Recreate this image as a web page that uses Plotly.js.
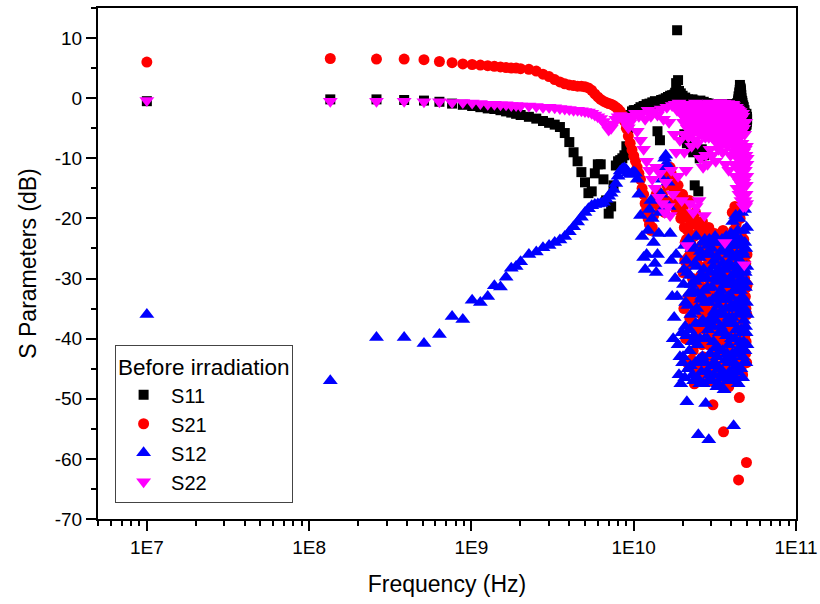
<!DOCTYPE html>
<html>
<head>
<meta charset="utf-8">
<script src="https://cdn.plot.ly/plotly-3.0.1.min.js"></script>
<style>
html, body { margin: 0; padding: 0; background: #ffffff; }
#chart { width: 820px; height: 604px; }
</style>
</head>
<body>
<div id="chart"></div>
<script>
// Sweep frequencies in GHz
const freqGHz = [
  0.01, 0.135, 0.26, 0.385, 0.51, 0.635, 0.76, 0.885, 1.01, 1.135, 1.26, 1.385, 1.51, 1.635, 1.76, 1.885, 2.01,
  2.26, 2.51, 2.76, 3.01, 3.26, 3.51, 3.76, 4.01, 4.26, 4.51, 4.76, 5.01, 5.26, 5.51, 5.76, 6.01,
  6.26, 6.51, 6.76, 7.01, 7.26, 7.51, 7.76, 8.01, 8.26, 8.51, 8.76, 9.01, 9.26, 9.51, 9.76, 10.01,
  10.26, 10.51, 10.76, 11.01, 11.26, 11.51, 11.76, 12.01, 12.26, 12.51,
  12.76, 13.01, 13.26, 13.51, 13.76, 14.01, 14.26, 14.51, 14.76, 15.01,
  15.26, 15.51, 15.76, 16.01, 16.26, 16.51, 16.76, 17.01, 17.26, 17.51,
  17.76, 18.01, 18.26, 18.51, 18.76, 19.01, 19.26, 19.51, 19.76, 20.01,
  20.135, 20.26, 20.385, 20.51, 20.635, 20.76, 20.885, 21.01,
  21.135, 21.26, 21.385, 21.51, 21.635, 21.76, 21.885, 22.01,
  22.135, 22.26, 22.385, 22.51, 22.635, 22.76, 22.885, 23.01,
  23.135, 23.26, 23.385, 23.51, 23.635, 23.76, 23.885, 24.01,
  24.135, 24.26, 24.385, 24.51, 24.635, 24.76, 24.885, 25.01,
  25.135, 25.26, 25.385, 25.51, 25.635, 25.76, 25.885, 26.01,
  26.135, 26.26, 26.385, 26.51, 26.635, 26.76, 26.885, 27.01,
  27.135, 27.26, 27.385, 27.51, 27.635, 27.76, 27.885, 28.01,
  28.135, 28.26, 28.385, 28.51, 28.635, 28.76, 28.885, 29.01,
  29.135, 29.26, 29.385, 29.51, 29.635, 29.76, 29.885, 30.01,
  30.135, 30.26, 30.385, 30.51, 30.635, 30.76, 30.885, 31.01,
  31.135, 31.26, 31.385, 31.51, 31.635, 31.76, 31.885, 32.01,
  32.135, 32.26, 32.385, 32.51, 32.635, 32.76, 32.885, 33.01,
  33.135, 33.26, 33.385, 33.51, 33.635, 33.76, 33.885, 34.01,
  34.135, 34.26, 34.385, 34.51, 34.635, 34.76, 34.885, 35.01,
  35.135, 35.26, 35.385, 35.51, 35.635, 35.76, 35.885, 36.01,
  36.135, 36.26, 36.385, 36.51, 36.635, 36.76, 36.885, 37.01,
  37.135, 37.26, 37.385, 37.51, 37.635, 37.76, 37.885, 38.01,
  38.135, 38.26, 38.385, 38.51, 38.635, 38.76, 38.885, 39.01,
  39.135, 39.26, 39.385, 39.51, 39.635, 39.76, 39.885, 40.01,
  40.135, 40.26, 40.385, 40.51, 40.635, 40.76, 40.885, 41.01,
  41.135, 41.26, 41.385, 41.51, 41.635, 41.76, 41.885, 42.01,
  42.135, 42.26, 42.385, 42.51, 42.635, 42.76, 42.885, 43.01,
  43.135, 43.26, 43.385, 43.51, 43.635, 43.76, 43.885, 44.01,
  44.135, 44.26, 44.385, 44.51, 44.635, 44.76, 44.885, 45.01,
  45.135, 45.26, 45.385, 45.51, 45.635, 45.76, 45.885, 46.01,
  46.135, 46.26, 46.385, 46.51, 46.635, 46.76, 46.885, 47.01,
  47.135, 47.26, 47.385, 47.51, 47.635, 47.76, 47.885, 48.01,
  48.135, 48.26, 48.385, 48.51, 48.635, 48.76, 48.885, 49.01,
  49.135, 49.26, 49.385, 49.51, 49.635, 49.76, 49.885, 50.0
];

// S11 (dB)
const s11 = [
  -0.5, -0.2, -0.2, -0.3, -0.4, -0.6, -0.9, -1.1, -1.3, -1.5, -1.7, -1.8, -2.0, -2.2, -2.4, -2.6, -2.8,
  -3.1, -3.4, -3.8, -4.1, -4.4, -4.8, -5.8, -7.3, -9.0, -10.5, -12.3, -14.0, -15.8, -15.5, -12.5, -11.0,
  -11.0, -13.5, -17.0, -19.2, -18.0, -14.5, -11.2, -10.5, -10.3, -10.0, -9.5, -8.0, -5.0, -2.8, -2.2, -2.0,
  -2.0, -2.3, -1.8, -1.5, -1.9, -1.3, -1.6, -1.0, -1.4, -0.9,
  -1.2, -0.7, -1.1, -0.5, -0.9, -5.5, -0.6, -7.0, -0.3, -0.8,
  -0.2, -0.6, 0.0, -0.4, 0.2, -0.3, 0.4, 0.1, 0.5, 0.2,
  0.6, 0.9, 2.5, 11.3, 3.0, 1.2, 0.5, 0.8, 0.2, 0.4,
  -0.6, -0.2, -1.0, -6.0, -0.4, 0.1, -0.9, -0.5,
  -0.3, -7.5, -1.1, -0.3, -0.2, -0.8, -1.2, -6.5,
  -0.7, -0.4, -1.0, -8.5, -0.3, -0.6, -1.2, -0.2,
  -0.9, -9.0, -0.4, -0.7, -1.3, -14.5, -0.8, -0.5,
  -1.1, -1.0, -0.5, -8.0, -1.4, -0.6, -0.9, -15.5,
  -1.3, -0.8, -0.6, -10.0, -1.1, -0.4, -0.9, -1.2,
  -0.7, -8.5, -1.3, -0.9, -0.8, -1.5, -1.1, -0.6,
  -1.4, -9.5, -0.9, -1.0, -1.6, -1.3, -1.1, -0.8,
  -1.3, -1.6, -0.9, -1.1, -1.5, -1.4, -1.2, -0.9,
  -1.4, -1.7, -1.0, -1.2, -1.6, -1.0, -1.3, -1.5,
  -1.1, -1.2, -1.7, -1.6, -1.3, -1.0, -1.5, -1.4,
  -1.2, -1.8, -1.6, -1.1, -1.0, -1.5, -1.7, -1.3,
  -1.5, -1.9, -1.0, -1.2, -1.4, -1.6, -1.3, -1.0,
  -1.8, -1.4, -1.1, -1.7, -1.6, -1.2, -1.3, -1.5,
  -1.4, -1.1, -1.6, -1.8, -1.0, -1.3, -1.5, -1.6,
  -1.7, -1.2, -1.0, -1.5, -1.4, -1.9, -1.6, -1.3,
  -1.1, -1.6, -1.5, -1.1, -1.7, -1.4, -1.2, -1.8,
  -1.6, -1.3, -1.0, -1.5, -1.4, -1.0, -1.8, -1.6,
  -1.2, -1.4, -1.6, -1.9, -1.5, -1.2, -1.1, -1.5,
  -1.4, -1.7, -1.2, -1.3, -1.8, -1.6, -1.1, -1.4,
  -1.6, -1.3, -1.1, -1.6, -1.5, -1.2, -1.4, -1.8,
  -1.2, -1.4, -1.7, -1.0, -1.3, -1.6, -1.5, -1.3,
  -1.6, -1.9, -1.1, -1.2, -1.4, -1.5, -1.0, -1.1,
  -1.3, -1.7, -1.0, -0.8, -1.6, -1.4, -0.9, -0.5,
  -0.2, 0.3, -0.6, -1.2, 0.2, 0.8, 1.0, 1.4,
  2.2, 1.8, 0.6, 1.0, 1.6, 1.3, 0.8, 0.5,
  0.0, -0.4, -1.0, -1.5, -0.5, -0.8, -1.8, -2.5,
  -1.6, -1.2, -2.2, -3.0, -1.5, -2.0, -3.2, -3.8,
  -2.0, -2.5, -3.6, -4.2, -2.8, -3.0, -4.8, -4.5,
  -2.9, -3.4, -3.9, -2.6, -4.4, -4.0, -3.1, -3.5
];

// S21 (dB)
const s21 = [
  6.0, 6.6, 6.5, 6.5, 6.4, 6.1, 5.9, 5.7, 5.6, 5.5, 5.4, 5.3, 5.2, 5.1, 5.0, 5.0, 4.9,
  4.8, 4.5, 4.0, 3.6, 3.1, 2.7, 2.4, 2.2, 2.1, 2.0, 2.0, 1.9, 1.7, 1.3, 0.7, 0.2,
  -0.2, -0.5, -0.7, -0.9, -1.0, -1.2, -1.5, -1.8, -2.2, -2.8, -3.8, -5.0, -6.3, -7.5, -8.6, -9.6,
  -10.5, -11.5, -12.5, -13.5, -15.0, -16.0, -17.5, -18.5, -20.0, -21.0,
  -22.0, -21.5, -19.5, -17.5, -16.0, -15.5, -17.0, -18.5, -17.0, -16.0,
  -17.5, -19.0, -17.0, -14.5, -13.0, -12.0, -11.5, -12.5, -13.5, -14.0,
  -15.5, -17.0, -18.5, -16.0, -14.5, -16.5, -18.5, -20.0, -17.5, -16.0,
  -29.0, -18.0, -35.0, -21.5, -27.0, -24.0, -40.0, -19.5,
  -23.5, -28.0, -44.0, -22.0, -26.5, -33.0, -20.0, -17.0,
  -36.5, -26.0, -24.0, -38.0, -43.5, -21.0, -33.5, -30.0,
  -27.5, -42.0, -31.0, -23.0, -47.5, -35.0, -25.5, -19.0,
  -32.0, -45.0, -38.5, -27.0, -20.5, -22.5, -34.5, -40.0,
  -44.0, -31.0, -25.5, -21.5, -37.5, -46.0, -29.5, -25.0,
  -24.5, -36.0, -41.0, -20.5, -31.5, -43.0, -25.5, -29.0,
  -45.0, -23.0, -34.5, -38.5, -28.0, -47.0, -33.0, -22.0,
  -38.0, -33.0, -23.5, -26.5, -44.5, -41.0, -30.0, -21.5,
  -27.5, -35.5, -40.5, -44.0, -32.0, -24.0, -47.0, -30.5,
  -36.5, -23.5, -29.5, -39.0, -43.5, -51.0, -33.0, -27.0,
  -30.0, -45.0, -26.5, -22.5, -39.5, -34.0, -47.0, -41.5,
  -34.5, -25.0, -42.5, -47.5, -36.0, -30.0, -27.0, -23.0,
  -31.0, -37.0, -24.0, -44.5, -40.5, -28.0, -35.0, -24.5,
  -46.0, -40.0, -28.5, -32.5, -37.5, -46.5, -23.5, -26.0,
  -30.5, -36.0, -41.0, -22.0, -27.0, -55.5, -33.5, -42.0,
  -45.5, -29.0, -35.0, -24.0, -41.5, -38.0, -26.5, -47.0,
  -37.0, -31.5, -44.0, -25.5, -28.5, -43.5, -39.0, -34.0,
  -23.5, -27.5, -33.5, -48.0, -41.5, -37.0, -30.0, -24.0,
  -35.5, -41.0, -26.0, -30.0, -38.0, -45.5, -32.0, -26.5,
  -44.5, -35.0, -24.5, -19.0, -30.0, -42.0, -38.0, -28.5,
  -33.5, -22.0, -40.5, -46.0, -26.0, -33.0, -44.5, -18.0,
  -29.0, -39.5, -36.0, -25.0, -42.0, -21.0, -31.0, -44.0,
  -40.0, -30.5, -27.0, -19.5, -45.5, -37.0, -33.5, -23.0,
  -36.0, -63.5, -29.5, -41.0, -38.0, -49.8, -44.5, -27.0,
  -32.5, -20.0, -41.5, -35.5, -28.0, -45.0, -37.5, -22.5,
  -43.5, -31.0, -26.5, -40.0, -34.5, -24.5, -46.0, -29.0,
  -36.5, -43.0, -30.5, -34.0, -23.5, -26.0, -41.0, -38.0,
  -28.0, -30.0, -39.5, -44.0, -25.5, -33.0, -42.5, -27.5,
  -35.0, -40.5, -31.5, -60.6, -44.0, -36.0, -26.0, -31.0
];

// S12 (dB)
const s12 = [
  -36.0, -47.0, -39.8, -39.8, -40.8, -39.3, -36.3, -36.8, -33.6, -34.0, -33.0, -31.2, -31.4, -29.8, -28.3, -28.0, -27.2,
  -26.0, -25.6, -24.9, -24.5, -24.0, -23.6, -23.0, -22.2, -21.4, -20.6, -19.8, -19.0, -18.4, -17.9, -17.7, -17.6,
  -17.5, -17.3, -16.8, -16.3, -15.8, -15.2, -14.2, -13.0, -12.1, -11.8, -11.6, -11.9, -12.4, -12.7, -12.5, -12.3,
  -12.5, -13.5, -16.0, -19.5, -23.0, -26.5, -28.5, -26.0, -22.0, -18.5,
  -17.0, -20.0, -24.0, -27.5, -29.0, -26.0, -22.5, -19.0, -16.0, -13.5,
  -11.5, -10.0, -9.5, -11.0, -14.0, -18.0, -22.5, -27.0, -33.0, -40.0,
  -36.5, -30.0, -26.0, -33.0, -41.0, -46.0, -43.0, -47.5, -39.0, -44.0,
  -43.0, -31.0, -28.5, -24.5, -46.5, -38.0, -34.0, -27.0,
  -39.5, -50.5, -29.0, -34.5, -45.0, -23.5, -32.5, -42.0,
  -38.5, -29.5, -44.5, -36.0, -31.0, -25.0, -40.5, -46.0,
  -24.5, -32.0, -47.0, -39.5, -35.5, -27.5, -30.5, -44.0,
  -37.5, -23.0, -28.0, -35.0, -46.5, -41.0, -32.5, -56.0,
  -43.5, -30.0, -26.5, -47.5, -40.0, -25.5, -33.5, -37.5,
  -45.5, -33.0, -29.5, -43.0, -37.0, -24.0, -47.5, -28.5,
  -32.0, -40.0, -23.5, -34.0, -44.0, -50.8, -37.5, -26.0,
  -30.0, -45.5, -40.0, -31.5, -24.5, -38.5, -47.0, -56.8,
  -34.0, -23.5, -46.0, -42.5, -37.0, -29.0, -26.0, -36.5,
  -44.5, -25.0, -31.5, -47.0, -38.0, -33.5, -28.0, -40.5,
  -46.0, -27.0, -35.5, -44.0, -30.0, -23.0, -41.5, -37.0,
  -24.0, -30.5, -36.0, -48.0, -43.0, -26.5, -33.0, -41.5,
  -47.5, -34.5, -28.5, -24.0, -39.0, -45.0, -32.5, -29.0,
  -42.0, -38.0, -25.5, -32.0, -35.5, -46.5, -29.5, -23.5,
  -33.5, -42.0, -45.5, -27.5, -30.0, -36.0, -24.0, -48.5,
  -39.0, -31.0, -46.0, -25.0, -28.5, -43.5, -37.5, -35.0,
  -23.0, -39.5, -33.5, -28.0, -42.5, -47.0, -30.5, -24.5,
  -44.0, -33.0, -27.5, -41.0, -36.5, -26.0, -31.0, -45.5,
  -25.5, -30.0, -46.5, -37.5, -33.0, -22.5, -40.0, -43.0,
  -34.5, -28.0, -24.5, -36.5, -42.5, -20.5, -31.0, -46.0,
  -37.5, -54.5, -26.5, -32.0, -44.0, -24.0, -29.0, -40.0,
  -47.0, -29.5, -35.0, -19.5, -23.0, -44.5, -38.5, -34.0,
  -42.5, -26.0, -31.5, -38.5, -45.5, -22.0, -28.0, -47.5,
  -36.0, -31.0, -24.5, -20.0, -34.5, -41.5, -45.0, -27.0,
  -40.5, -35.5, -29.0, -23.5, -32.0, -45.0, -38.5, -30.0,
  -27.5, -19.0, -42.0, -39.0, -33.0, -25.5, -46.5, -43.0,
  -30.5, -33.5, -26.0, -22.0, -40.5, -37.0, -44.0, -28.5,
  -35.0, -18.5, -24.0, -42.0, -29.0, -31.5, -38.0, -25.0,
  -44.0, -39.0, -30.5, -34.0, -21.5, -28.0, -41.0, -36.0
];

// S22 (dB)
const s22 = [
  -0.4, -0.5, -0.5, -0.5, -0.6, -0.6, -0.7, -0.7, -0.8, -0.9, -1.0, -1.0, -1.1, -1.1, -1.2, -1.2, -1.3,
  -1.3, -1.4, -1.5, -1.5, -1.6, -1.7, -1.8, -1.9, -2.0, -2.0, -2.1, -2.2, -2.3, -2.5, -2.8, -3.1,
  -3.4, -3.9, -4.6, -5.3, -5.0, -4.3, -3.5, -3.1, -2.9, -3.1, -3.6, -4.3, -4.9, -4.1, -3.3, -3.0,
  -2.5, -5.5, -3.0, -7.0, -2.5, -8.5, -3.5, -10.5, -2.0, -12.0,
  -3.0, -13.5, -2.2, -15.0, -11.5, -2.8, -16.5, -12.5, -1.8, -17.5,
  -3.5, -19.0, -14.0, -1.5, -18.0, -4.0, -19.5, -12.0, -1.2, -16.0,
  -6.0, -1.0, -9.0, -2.0, -13.0, -0.8, -7.0, -2.5, -17.0, -1.5,
  -1.5, -4.0, -6.0, -9.0, -1.2, -2.0, -3.5, -12.0,
  -2.5, -24.5, -5.0, -3.0, -1.0, -6.5, -3.5, -1.0,
  -2.2, -17.5, -1.3, -4.5, -6.0, -8.0, -2.8, -1.5,
  -4.0, -19.0, -1.0, -3.5, -2.5, -5.5, -7.0, -0.8,
  -3.0, -18.0, -5.0, -2.5, -1.5, -7.5, -4.0, -1.2,
  -2.0, -17.0, -6.0, -4.0, -1.0, -10.0, -3.0, -2.0,
  -4.5, -6.0, -1.5, -0.9, -5.0, -11.5, -2.0, -3.0,
  -1.2, -19.5, -4.0, -1.5, -6.5, -9.5, -2.5, -4.5,
  -3.0, -1.0, -5.5, -11.0, -2.0, -3.5, -1.2, -6.5,
  -4.0, -0.8, -2.0, -8.5, -5.5, -2.5, -1.0, -5.0,
  -3.5, -1.2, -6.5, -9.5, -1.5, -3.0, -4.5, -5.5,
  -2.0, -0.9, -4.5, -7.0, -1.2, -2.2, -6.0, -10.5,
  -1.5, -4.0, -3.0, -1.0, -7.5, -6.0, -1.8, -2.8,
  -5.0, -8.5, -2.5, -1.5, -6.0, -4.5, -3.0, -0.7,
  -2.0, -7.5, -4.0, -3.2, -1.0, -5.0, -6.5, -1.3,
  -3.5, -9.0, -1.5, -2.0, -5.5, -4.0, -2.5, -0.8,
  -4.0, -6.5, -2.0, -24.0, -7.0, -11.0, -3.0, -1.4,
  -2.5, -5.0, -6.0, -3.0, -1.2, -8.0, -4.5, -0.9,
  -5.5, -4.5, -1.5, -12.0, -3.5, -2.0, -7.0, -6.0,
  -2.5, -1.1, -5.0, -9.5, -1.5, -3.4, -4.0, -7.0,
  -1.5, -2.0, -4.0, -5.5, -2.5, -1.0, -6.0, -8.0,
  -1.2, -3.0, -5.0, -11.0, -2.0, -1.5, -9.0, -6.5,
  -2.5, -13.0, -4.5, -2.5, -6.0, -9.0, -1.5, -4.0,
  -8.0, -15.0, -3.0, -1.8, -10.0, -7.0, -13.0, -11.5,
  -2.0, -3.5, -12.0, -16.0, -7.5, -5.0, -14.0, -9.5,
  -6.0, -2.2, -10.5, -13.5, -3.5, -17.0, -8.0, -4.5,
  -14.5, -11.0, -5.5, -7.5, -12.5, -15.0, -2.5, -3.0,
  -10.0, -18.0, -16.5, -9.0, -5.0, -14.0, -11.0, -27.7,
  -16.0, -6.0, -13.0, -17.0, -8.5, -12.0, -18.0, -4.0,
  -9.5, -16.0, -14.5, -8.0, -17.5, -13.0, -11.0, -10.0
];

const seriesNames = ['S11', 'S21', 'S12', 'S22'];
const legendTitle = 'Before irradiation';
const xTitle = 'Frequency (Hz)';
const yTitle = 'S Parameters (dB)';
const xTickVals = [1e7, 1e8, 1e9, 1e10, 1e11];
const xTickText = ['1E7', '1E8', '1E9', '1E10', '1E11'];
const yTickVals = [-70, -60, -50, -40, -30, -20, -10, 0, 10];
const yTickText = ['-70', '-60', '-50', '-40', '-30', '-20', '-10', '0', '10'];

const FONT = 'Arial, "Liberation Sans", sans-serif';
const freqHz = freqGHz.map(f => f * 1e9);

const markerStyles = [
  { symbol: 'square',        color: '#000000', size: 10 },
  { symbol: 'circle',        color: '#ff0000', size: 11 },
  { symbol: 'triangle-up',   color: '#0000ff', size: 13 },
  { symbol: 'triangle-down', color: '#ff00ff', size: 13 }
];

const traces = [s11, s21, s12, s22].map((vals, i) => ({
  type: 'scatter',
  mode: 'markers',
  x: freqHz,
  y: vals,
  name: seriesNames[i],
  marker: {
    symbol: markerStyles[i].symbol,
    color: markerStyles[i].color,
    size: markerStyles[i].size,
    line: { width: 0 }
  }
}));

// minor ticks at 2..9 within each decade
const minorX = [];
for (let e = 6; e <= 10; e++) {
  for (let m = 2; m <= 9; m++) minorX.push(m * Math.pow(10, e));
}

const axisCommon = {
  ticks: 'outside',
  ticklen: 10,
  tickwidth: 2,
  tickcolor: '#000000',
  showline: true,
  linewidth: 2,
  linecolor: '#000000',
  mirror: true,
  showgrid: false,
  zeroline: false,
  tickfont: { family: FONT, size: 19, color: '#000000' }
};

const layout = {
  width: 820,
  height: 604,
  margin: { l: 98, r: 24, t: 8, b: 85 },
  paper_bgcolor: '#ffffff',
  plot_bgcolor: '#ffffff',
  font: { family: FONT, size: 19, color: '#000000' },
  showlegend: true,
  legend: {
    x: 0.0245, y: 0.3405, xanchor: 'left', yanchor: 'top',
    bgcolor: '#ffffff', bordercolor: '#444444', borderwidth: 1,
    font: { family: FONT, size: 20, color: '#000000' },
    title: { text: legendTitle, font: { family: FONT, size: 22.5, color: '#000000' } },
    itemwidth: 45
  },
  xaxis: Object.assign({}, axisCommon, {
    type: 'log',
    range: [Math.log10(5e6), 11],
    tickmode: 'array',
    tickvals: xTickVals,
    ticktext: xTickText,
    minor: { tickmode: 'array', tickvals: minorX, ticks: 'outside', ticklen: 5, tickwidth: 2, tickcolor: '#000000', showgrid: false },
    title: { text: xTitle, font: { family: FONT, size: 23, color: '#000000' }, standoff: 19 }
  }),
  yaxis: Object.assign({}, axisCommon, {
    range: [-70, 15],
    tickmode: 'array',
    tickvals: yTickVals,
    ticktext: yTickText,
    minor: { tickmode: 'linear', tick0: -65, dtick: 10, ticks: 'outside', ticklen: 5, tickwidth: 2, tickcolor: '#000000', showgrid: false },
    title: { text: yTitle, font: { family: FONT, size: 23, color: '#000000' }, standoff: 12 }
  })
};

Plotly.newPlot('chart', traces, layout, { displayModeBar: false, staticPlot: true });
</script>
</body>
</html>
